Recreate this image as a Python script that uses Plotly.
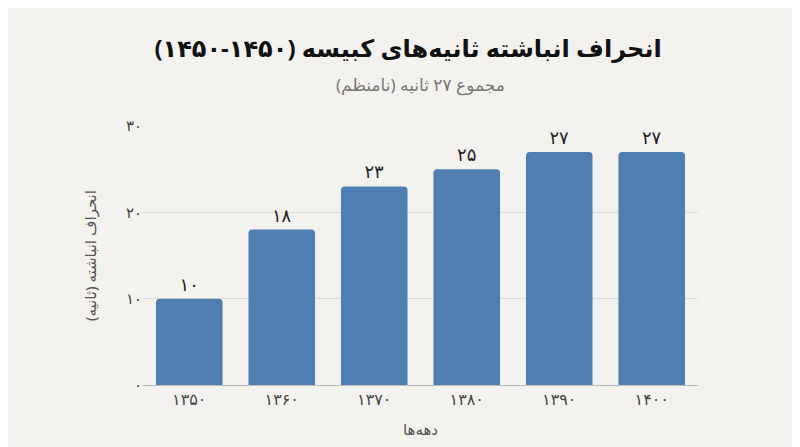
import plotly.graph_objects as go

decades = ["۱۳۵۰", "۱۳۶۰", "۱۳۷۰", "۱۳۸۰", "۱۳۹۰", "۱۴۰۰"]
values = [10, 18, 23, 25, 27, 27]
labels = ["۱۰", "۱۸", "۲۳", "۲۵", "۲۷", "۲۷"]
yticks = [0, 10, 20, 30]
ytext = ["۰", "۱۰", "۲۰", "۳۰"]

fig = go.Figure(go.Bar(
    x=decades, y=values, text=labels, textposition="outside",
    textfont=dict(size=18, color="#222"),
    marker=dict(color="#4f7fb0", line=dict(width=0), cornerradius=4),
    cliponaxis=False,
))
fig.update_layout(
    width=800, height=447,
    paper_bgcolor="#f4f2ef", plot_bgcolor="#f4f2ef",
    font=dict(family="Noto Sans, DejaVu Sans", color="#555"),
    title=dict(text="<b>انحراف انباشته ثانیه‌های کبیسه (۱۴۵۰-۱۴۵۰)</b>",
               x=0.5, xanchor="center", y=0.91, yanchor="middle", font=dict(size=24, color="#111")),
    annotations=[dict(text="مجموع ۲۷ ثانیه (نامنظم)", xref="paper", yref="paper", x=0.5, y=1.16,
                      xanchor="center", yanchor="middle", showarrow=False, font=dict(size=17, color="#777"))],
    margin=dict(l=135, r=110, t=118, b=70),
    bargap=0.28,
    showlegend=False,
    xaxis=dict(title=dict(text="دهه‌ها", font=dict(size=15, color="#555")), tickfont=dict(size=16, color="#444"),
               showline=True, linecolor="#bbb", ticks="", showgrid=False),
    yaxis=dict(title=dict(text="انحراف انباشته (ثانیه)", font=dict(size=15, color="#555"), standoff=25),
               range=[0, 30], tickvals=yticks, ticktext=ytext, tickfont=dict(size=15, color="#444"),
               gridcolor="#dcdcdc", zeroline=False),
)
fig.write_html("out.html")
